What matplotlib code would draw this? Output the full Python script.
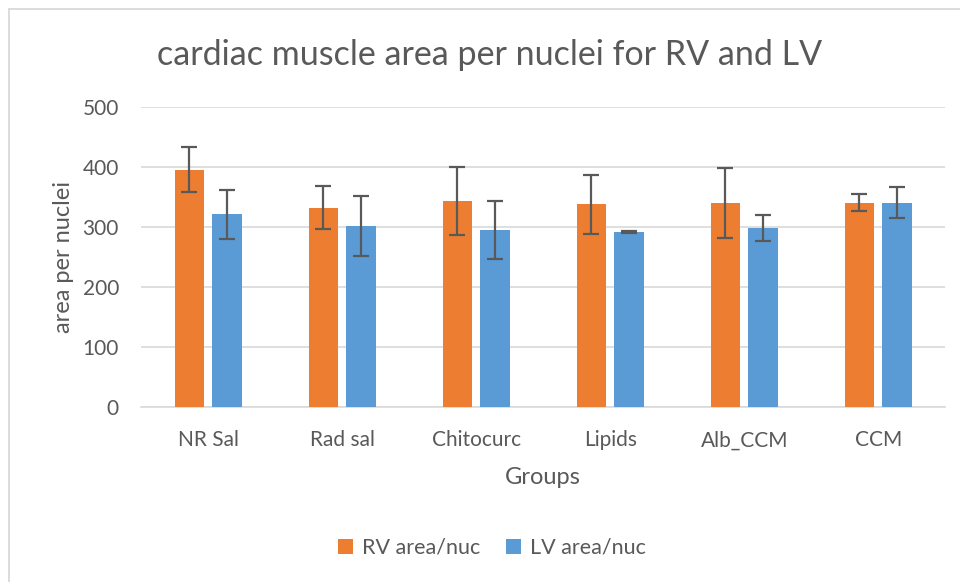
import matplotlib
matplotlib.use("Agg")
import matplotlib.pyplot as plt
import numpy as np
from matplotlib.patches import Rectangle

categories = ["NR Sal", "Rad sal", "Chitocurc", "Lipids", "Alb_CCM", "CCM"]
rv_values = [396, 332, 344, 338, 340, 341]
rv_errors = [38, 36, 57, 49, 58, 15]
lv_values = [321, 302, 295, 292, 298, 341]
lv_errors = [41, 50, 48, 2, 22, 26]
series_names = ["RV area/nuc", "LV area/nuc"]
y_ticks = [0, 100, 200, 300, 400, 500]

plt.rcParams['font.family'] = ['Lato', 'DejaVu Sans']
text_color = "#595959"
grid_color = "#d9d9d9"

fig = plt.figure(figsize=(9.6, 5.82), dpi=100)
fig.patches.append(Rectangle((9/960, -0.1), 1.2, (582-9)/582 + 0.1, transform=fig.transFigure,
                             fill=False, edgecolor=grid_color, linewidth=1.3))

ax = fig.add_axes([141.2/960, 175.3/582, 804/960, 299.4/582])
x = np.arange(len(categories))
w = 0.22
off = 0.141
err_kw = dict(ecolor="#595959", elinewidth=1.6, capsize=5.5, capthick=1.6)
ax.bar(x - off, rv_values, w, yerr=rv_errors, color="#ED7D31", label=series_names[0],
       error_kw=err_kw, zorder=3)
ax.bar(x + off, lv_values, w, yerr=lv_errors, color="#5B9BD5", label=series_names[1],
       error_kw=err_kw, zorder=3)

ax.set_xlim(-0.5, len(categories) - 0.5)
ax.set_ylim(0, 500)
ax.set_yticks(y_ticks)
ax.set_xticks(x)
ax.set_xticklabels(categories)
ax.yaxis.grid(True, color=grid_color, linewidth=1.2, zorder=0)
ax.set_axisbelow(True)
for s in ["top", "right", "left"]:
    ax.spines[s].set_visible(False)
ax.spines["bottom"].set_color(grid_color)
ax.spines["bottom"].set_linewidth(1.2)
ax.tick_params(axis="both", length=0, labelsize=15, colors=text_color)
ax.tick_params(axis="y", pad=16)
ax.tick_params(axis="x", pad=17)

ax.set_xlabel("Groups", fontsize=17, color=text_color, labelpad=12)
ax.set_ylabel("area per nuclei", fontsize=17, color=text_color, labelpad=6)

fig.text(490/960, 1 - 55/582, "cardiac muscle area per nuclei for RV and LV",
         ha="center", va="center", fontsize=24.5, color=text_color)

leg = fig.legend(loc="center", bbox_to_anchor=(492/960, 1 - 548/582), ncol=2, frameon=False,
                 fontsize=15.5, handlelength=0.7, handleheight=0.7, handletextpad=0.4,
                 columnspacing=1.2, labelcolor=text_color)

fig.savefig("out.png", dpi=100)
